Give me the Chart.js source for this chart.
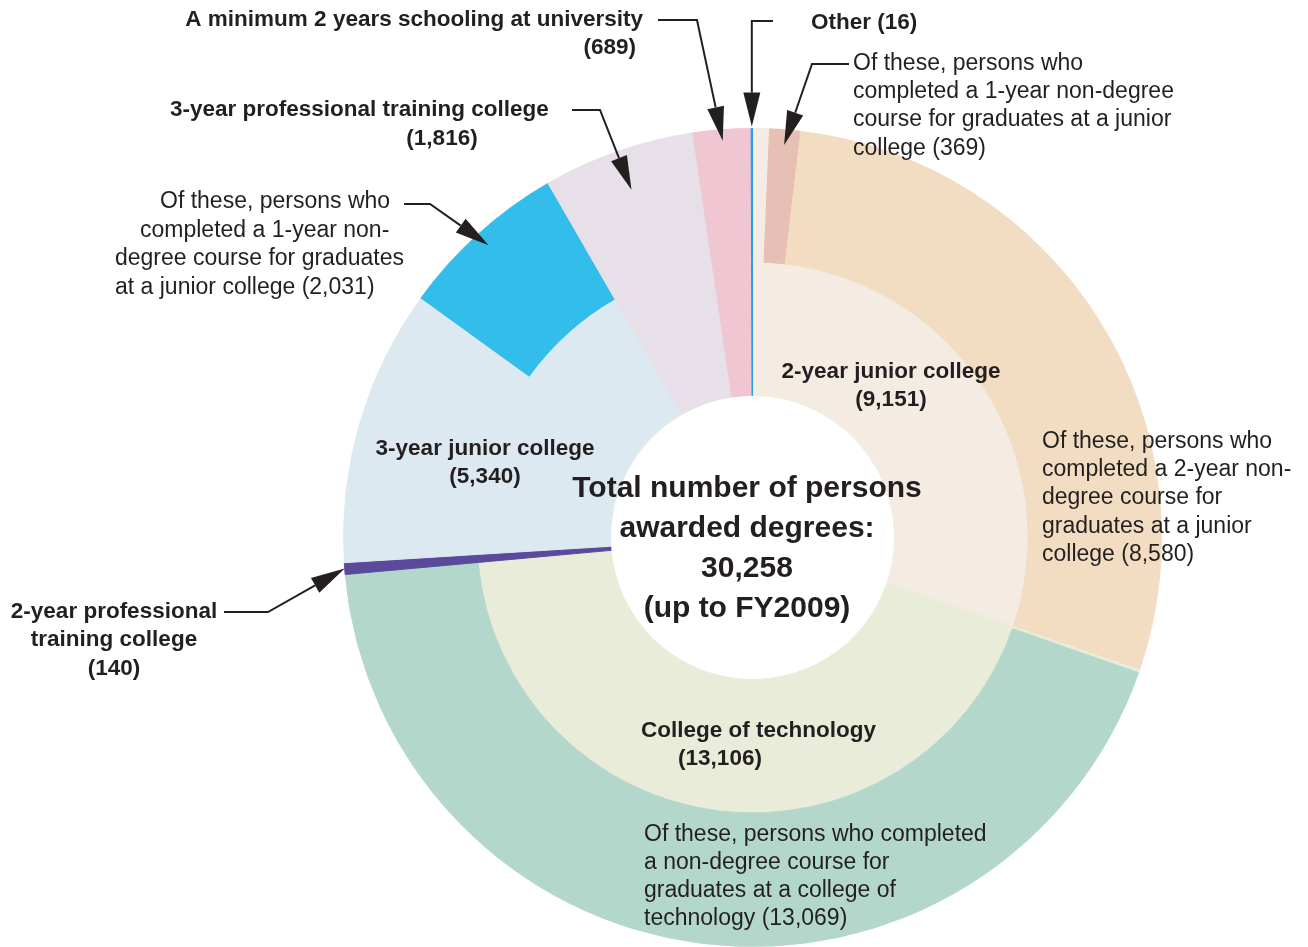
<!DOCTYPE html>
<html>
<head>
<meta charset="utf-8">
<script src="https://cdn.jsdelivr.net/npm/chart.js@4"></script>
<style>
  html, body { margin: 0; padding: 0; background: #fff; }
  #wrap { width: 1308px; height: 947px; }
</style>
</head>
<body>
<div id="wrap"><canvas id="degrees" width="1308" height="947"></canvas></div>
<script>
// categories clockwise from 12 o'clock
const categories = ["2-year junior college", "College of technology", "2-year professional training college",
  "3-year junior college", "3-year professional training college",
  "A minimum 2 years schooling at university", "Other"];
const totals = [9151, 13106, 140, 5340, 1816, 689, 16];

// "of these" subsets (non-degree course graduates)
const juniorOneYear = 369;
const juniorTwoYear = 8580;
const techNonDegree = 13069;
const threeYearOneYear = 2031;

const innerColors = ["#f4ece2", "#e9ecd8", "#5b4a9c", "#dde9f1", "#e7e0e8", "#f0c6d3", "#1f9fe0"];

// outer ring: the subsets split out of each category
const outerLabels = ["2-year junior college (rest)", "1-year non-degree course, junior college",
  "2-year non-degree course, junior college", "College of technology (rest)",
  "Non-degree course, college of technology", categories[2], "3-year junior college (rest)",
  "1-year non-degree course, 3-year junior college", categories[4], categories[5], categories[6]];
const outerValues = [totals[0] - juniorOneYear - juniorTwoYear, juniorOneYear, juniorTwoYear,
  totals[1] - techNonDegree, techNonDegree, totals[2], totals[3] - threeYearOneYear,
  threeYearOneYear, totals[4], totals[5], totals[6]];
const outerColors = ["#f4ece2", "#e6bfb5", "#f3ddc2", "#e9ecd8", "#b3d8cb", "#5b4a9c",
  "#dde9f1", "#33bdea", "#e7e0e8", "#f0c6d3", "#1f9fe0"];

const fmt = v => v.toLocaleString("en-US");
const ink = "#231f20";
const FONT = '"Liberation Sans", Arial, Helvetica, sans-serif';

const labels = [
  { bold: true, align: "right", x: 643, lines: [[categories[5], 20]] },
  { bold: true, align: "right", x: 636, lines: [["(" + fmt(totals[5]) + ")", 48]] },
  { bold: true, align: "left", x: 170, lines: [[categories[4], 110]] },
  { bold: true, align: "center", x: 442, lines: [["(" + fmt(totals[4]) + ")", 139]] },
  { bold: false, align: "left", x: 160, lines: [["Of these, persons who", 202]] },
  { bold: false, align: "left", x: 140, lines: [["completed a 1-year non-", 231]] },
  { bold: false, align: "left", x: 115, lines: [["degree course for graduates", 259],
      ["at a junior college (" + fmt(threeYearOneYear) + ")", 288]] },
  { bold: true, align: "center", x: 114, lines: [["2-year professional", 612], ["training college", 640],
      ["(" + fmt(totals[2]) + ")", 669]] },
  { bold: true, align: "left", x: 811, lines: [["Other (" + fmt(totals[6]) + ")", 23]] },
  { bold: false, align: "left", x: 853, lines: [["Of these, persons who", 64], ["completed a 1-year non-degree", 92],
      ["course for graduates at a junior", 120], ["college (" + fmt(juniorOneYear) + ")", 149]] },
  { bold: true, align: "center", x: 891, lines: [[categories[0], 372], ["(" + fmt(totals[0]) + ")", 400]] },
  { bold: false, align: "left", x: 1042, lines: [["Of these, persons who", 442], ["completed a 2-year non-", 470],
      ["degree course for", 498], ["graduates at a junior", 527], ["college (" + fmt(juniorTwoYear) + ")", 555]] },
  { bold: true, align: "center", x: 485, lines: [[categories[3], 449], ["(" + fmt(totals[3]) + ")", 477]] },
  { bold: true, align: "left", x: 641, lines: [[categories[1], 731]] },
  { bold: true, align: "center", x: 720, lines: [["(" + fmt(totals[1]) + ")", 759]] },
  { bold: false, align: "left", x: 644, lines: [["Of these, persons who completed", 835], ["a non-degree course for", 863],
      ["graduates at a college of", 891], ["technology (" + fmt(techNonDegree) + ")", 919]] },
  { bold: true, size: 30, align: "center", x: 747, lines: [["Total number of persons", 489],
      ["awarded degrees:", 529], [fmt(totals.reduce((a, b) => a + b, 0)), 569], ["(up to FY2009)", 609]] }
];

// leader arrows: text end -> elbow -> point on an outer-ring arc
const arrows = [
  { from: [658, 20], elbow: [697, 20], index: 9, r: 0.973 },
  { from: [773, 21], elbow: [null, 21], index: 10, r: 1.005 },
  { from: [849, 64], elbow: [812, 64], index: 1, r: 0.963 },
  { from: [572, 110], elbow: [600, 110], index: 8, r: 0.9 },
  { from: [404, 204], elbow: [430, 204], index: 7, r: 0.963 },
  { from: [224, 612], elbow: [268, 612], index: 5, r: 1.0 }
];

const annotations = {
  id: "annotations",
  afterDraw(chart) {
    const ctx = chart.ctx;
    const arcs = chart.getDatasetMeta(0).data;
    ctx.save();
    ctx.fillStyle = ink;
    ctx.textBaseline = "middle";
    labels.forEach(l => {
      ctx.font = (l.bold ? "bold " : "") + (l.size || (l.bold ? 22.5 : 23)) + "px " + FONT;
      ctx.textAlign = l.align;
      l.lines.forEach(([t, y]) => ctx.fillText(t, l.x, y));
    });

    ctx.strokeStyle = ink;
    ctx.lineWidth = 2;
    arrows.forEach(a => {
      const arc = arcs[a.index];
      const mid = (arc.startAngle + arc.endAngle) / 2;
      const rad = arc.outerRadius * a.r;
      const tip = [arc.x + Math.cos(mid) * rad, arc.y + Math.sin(mid) * rad];
      const elbow = [a.elbow[0] === null ? tip[0] : a.elbow[0], a.elbow[1]];
      const ang = Math.atan2(tip[1] - elbow[1], tip[0] - elbow[0]);
      const len = 34, half = 8.5;
      const base = [tip[0] - Math.cos(ang) * len, tip[1] - Math.sin(ang) * len];
      ctx.beginPath();
      ctx.moveTo(a.from[0], a.from[1]);
      ctx.lineTo(elbow[0], elbow[1]);
      ctx.lineTo(base[0], base[1]);
      ctx.stroke();
      ctx.beginPath();
      ctx.moveTo(tip[0], tip[1]);
      ctx.lineTo(base[0] - Math.sin(ang) * half, base[1] + Math.cos(ang) * half);
      ctx.lineTo(base[0] + Math.sin(ang) * half, base[1] - Math.cos(ang) * half);
      ctx.closePath();
      ctx.fill();
    });
    ctx.restore();
  }
};

new Chart(document.getElementById("degrees"), {
  type: "doughnut",
  data: {
    labels: outerLabels,
    datasets: [{
      label: "Of these",
      data: outerValues,
      backgroundColor: outerColors,
      borderColor: outerColors,
      borderWidth: 1
    }, {
      label: "Persons awarded degrees",
      data: totals,
      backgroundColor: innerColors,
      borderColor: innerColors,
      borderWidth: 1
    }]
  },
  options: {
    responsive: false,
    animation: false,
    cutout: "34.72%",
    hoverOffset: 0,
    offset: 0,
    layout: { padding: { left: 343, right: 146, top: 128, bottom: 0 } },
    plugins: {
      legend: { display: false },
      tooltip: { enabled: false },
      title: { display: false }
    }
  },
  plugins: [annotations]
});
</script>
</body>
</html>
